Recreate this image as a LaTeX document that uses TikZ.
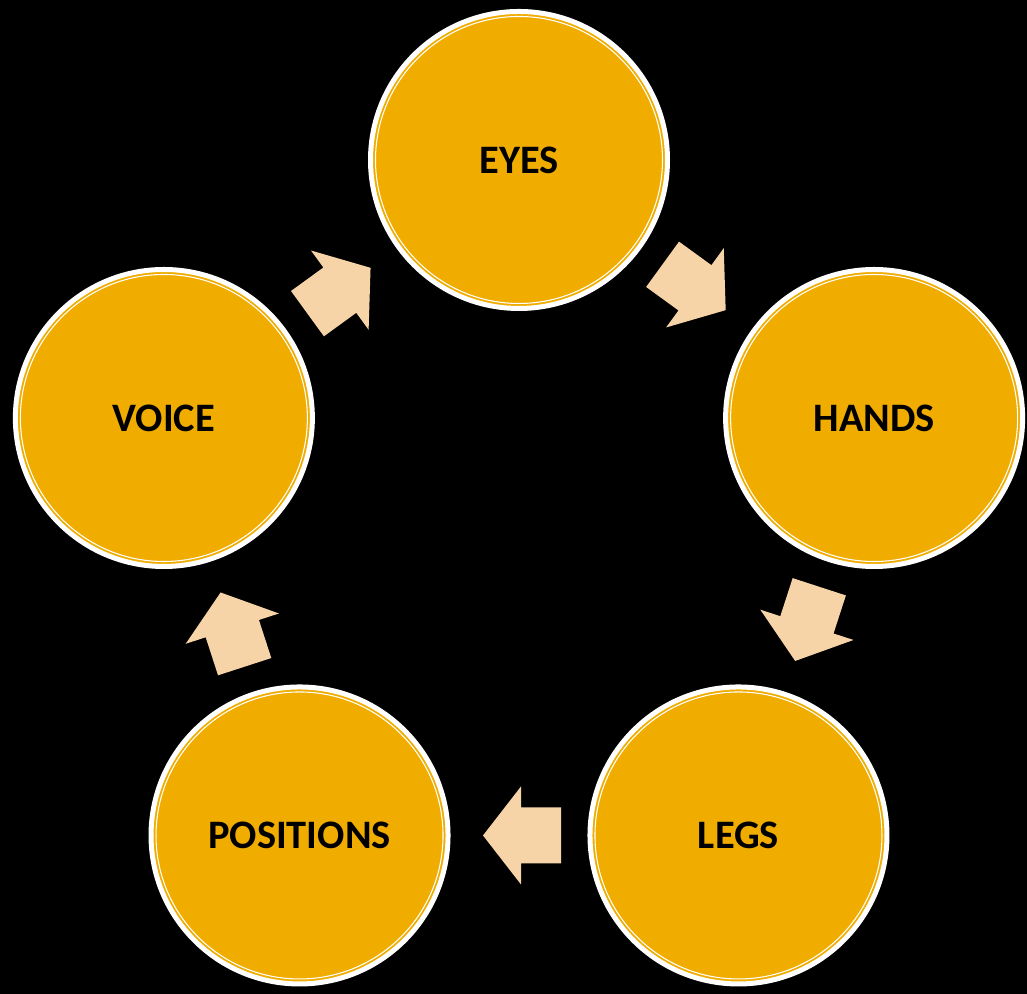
\documentclass[tikz,border=0pt]{standalone}
\usepackage{fontspec}
\setmainfont{Carlito}
\usetikzlibrary{calc}
\definecolor{gold}{RGB}{240,173,0}
\definecolor{peach}{RGB}{247,212,168}
\tikzset{
	stage/.style={circle, fill=gold, draw=white, line width=0.05cm, minimum size=2.97cm, inner sep=0pt, font=\fontsize{11.5}{13}\selectfont\bfseries},
	arrowfill/.style={fill=peach}
}
\def\blockarrow(#1)(#2)[#3]{\fill[arrowfill, shift={($(#1)!0.5!(#2)$)}, rotate=#3] (-0.42, -0.28) -- (-0.02, -0.28) -- (-0.02, -0.49) -- (0.36, 0) -- (-0.02, 0.49) -- (-0.02, 0.28) -- (-0.42, 0.28) -- cycle;}

\begin{document}
\begin{tikzpicture}
				\fill[black] (0, 0) rectangle (10.27, 9.94);
				\useasboundingbox (0, 0) rectangle (10.27, 9.94);
				
				\coordinate (mid) at (5.19, 4.606);
				
				\node[stage] (eyes) at ($(mid)+(90:3.734)$) {EYES};
				\node[stage] (hands) at ($(mid)+(18:3.734)$) {HANDS};
				\node[stage] (legs) at ($(mid)+(-54:3.734)$) {LEGS};
				\node[stage] (positions) at ($(mid)+(-126:3.734)$) {POSITIONS};
				\node[stage] (voice) at ($(mid)+(162:3.734)$) {VOICE};
				
				\foreach \n in {eyes, hands, legs, positions, voice}
					\draw[white, line width=0.3pt] (\n.center) circle (1.435);
				
				\blockarrow(eyes)(hands)[-36]
				\blockarrow(hands)(legs)[-108]
				\blockarrow(legs)(positions)[180]
				\blockarrow(positions)(voice)[108]
				\blockarrow(voice)(eyes)[36]
\end{tikzpicture}
\end{document}
